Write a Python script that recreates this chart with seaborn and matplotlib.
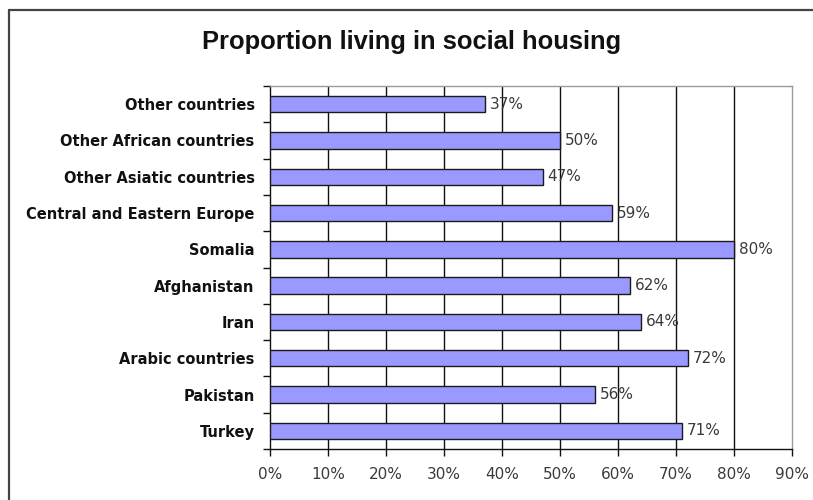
import matplotlib
matplotlib.use("Agg")
import matplotlib.pyplot as plt
from matplotlib.lines import Line2D
import seaborn as sns
import pandas as pd
import numpy as np

categories = [
    "Other countries",
    "Other African countries",
    "Other Asiatic countries",
    "Central and Eastern Europe",
    "Somalia",
    "Afghanistan",
    "Iran",
    "Arabic countries",
    "Pakistan",
    "Turkey",
]
shares = [37, 50, 47, 59, 80, 62, 64, 72, 56, 71]
x_ticks = [0, 10, 20, 30, 40, 50, 60, 70, 80, 90]
x_tick_labels = [f"{t}%" for t in x_ticks]
title = "Proportion living in social housing"

df = pd.DataFrame({"category": categories, "share": shares})

sns.set_theme(style="white")
plt.rcParams["font.family"] = ["DejaVu Sans"]

fig = plt.figure(figsize=(8.13, 5.0), dpi=100)
ax = fig.add_axes([270 / 813, 1 - 449 / 500, (792 - 270) / 813, (449 - 86) / 500])

sns.barplot(
    data=df, x="share", y="category", orient="h",
    color="#9999ff", edgecolor="#1a1a1a", linewidth=1.0,
    width=0.45, saturation=1, ax=ax, zorder=3,
)

ax.set_xlim(0, 90)
ax.set_ylim(len(categories) - 0.5, -0.5)
ax.set_xticks(x_ticks)
ax.set_xticklabels(x_tick_labels, fontsize=11, color="#3a3a3a")
ax.set_xlabel("")
ax.set_ylabel("")

# vertical gridlines at every 10%
for t in x_ticks[1:-1]:
    ax.axvline(t, color="#111111", lw=1.0, zorder=1)

# category labels centered on bars, tick marks at category boundaries
ax.set_yticks(range(len(categories)))
ax.set_yticklabels(categories, fontsize=10.5, fontweight="bold", color="#111111")
ax.tick_params(axis="y", which="major", length=0, pad=11)
ax.set_yticks(np.arange(-0.5, len(categories)), minor=True)
ax.tick_params(axis="y", which="minor", length=5, width=1, color="#111111", left=True)
ax.tick_params(axis="x", which="major", length=5, width=1, color="#111111", bottom=True, pad=8)

for side in ["left", "bottom"]:
    ax.spines[side].set_color("#111111")
    ax.spines[side].set_linewidth(1.0)
for side in ["top", "right"]:
    ax.spines[side].set_color("#9a9a9a")
    ax.spines[side].set_linewidth(1.0)

for cont in ax.containers:
    ax.bar_label(cont, labels=[f"{v}%" for v in shares], padding=3.5,
                 fontsize=11, color="#3a3a3a")

fig.text(412 / 813, 1 - 42 / 500, title, ha="center", va="center",
         fontsize=18.4, fontweight="bold", color="#111111",
         family=["Liberation Sans", "DejaVu Sans"])

# outer chart frame (top and left edges)
fig.add_artist(Line2D([9 / 813, 1.0], [1 - 10 / 500, 1 - 10 / 500],
                      transform=fig.transFigure, color="#444444", lw=1.6))
fig.add_artist(Line2D([9 / 813, 9 / 813], [0.0, 1 - 10 / 500],
                      transform=fig.transFigure, color="#444444", lw=1.6))

fig.savefig("out.png", dpi=100)
